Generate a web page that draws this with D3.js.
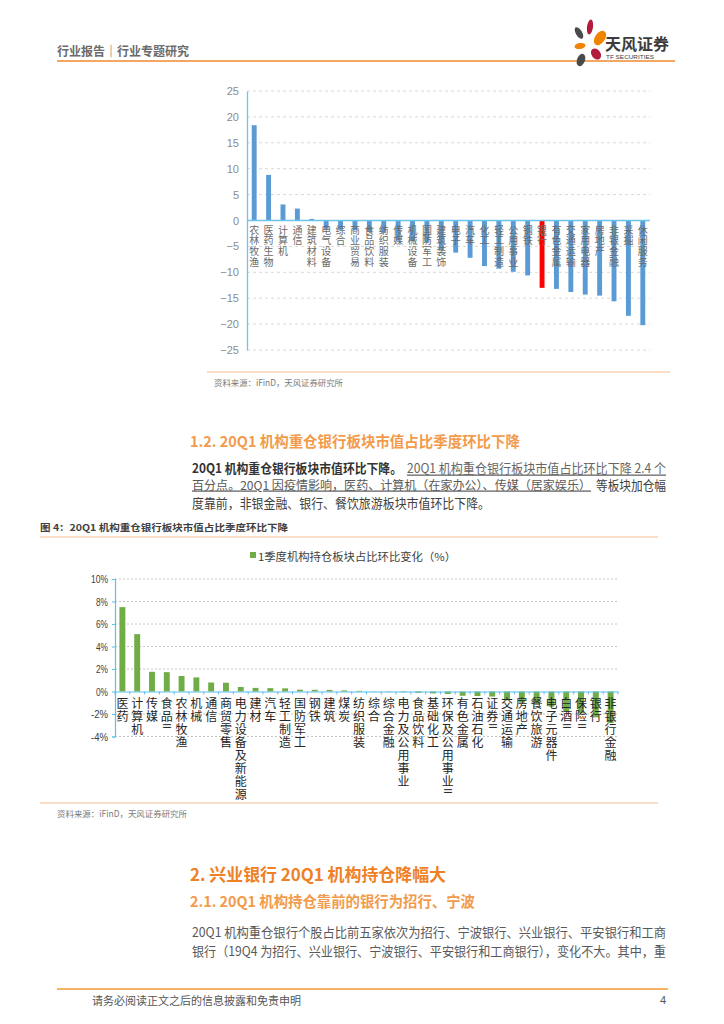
<!DOCTYPE html>
<html><head><meta charset="utf-8">
<script src="https://cdn.jsdelivr.net/npm/d3@7"></script>
<style>
html,body{margin:0;padding:0;background:#fff;}
svg{display:block;font-family:"Noto Sans CJK SC","Noto Sans",sans-serif;}
</style></head>
<body>
<svg id="page" width="724" height="1024"></svg>
<script>
// ---------- data ----------
const cats1 = ["农林牧渔","医药生物","计算机","通信","建筑材料","电气设备","综合","商业贸易","食品饮料","纺织服装","传媒","机械设备","国防军工","建筑装饰","电子","汽车","化工","轻工制造","公用事业","钢铁","银行","有色金属","交通运输","家用电器","房地产","非银金融","采掘","休闲服务"];
const vals1 = [18.4,8.8,3.1,2.3,0.3,-1.6,-1.8,-1.9,-2.1,-2.4,-3.9,-4.0,-4.3,-5.7,-6.2,-7.2,-8.8,-9.3,-9.9,-10.6,-13.0,-13.2,-13.8,-14.3,-14.5,-15.6,-18.4,-20.2];
const highlight1 = "银行";
const ticks1 = [-25,-20,-15,-10,-5,0,5,10,15,20,25];

const cats2 = ["医药","计算机","传媒","食品II","农林牧渔","机械","通信","商贸零售","电力设备及新能源","建材","汽车","轻工制造","国防军工","钢铁","建筑","煤炭","纺织服装","综合","综合金融","电力及公用事业","食品饮料","基础化工","环保及公用事业II","有色金属","石油石化","证券II","交通运输","房地产","餐饮旅游","电子元器件","白酒II","保险II","银行","非银行金融"];
const vals2 = [7.5,5.1,1.75,1.72,1.38,1.25,0.8,0.78,0.4,0.32,0.3,0.28,0.16,0.15,0.14,0.1,0.06,0.02,-0.03,-0.06,-0.12,-0.17,-0.22,-0.38,-0.4,-0.45,-0.8,-1.0,-1.05,-1.35,-1.8,-1.95,-2.3,-2.8];
const ticks2 = [-4,-2,0,2,4,6,8,10];
const legend2 = "1季度机构持仓板块占比环比变化（%）";

const svg = d3.select("#page");

// ---------- header ----------
svg.append("text").attr("x",57).attr("y",50).attr("dominant-baseline","central")
  .attr("font-size",12.5).attr("font-weight","bold").attr("fill","#6b6b6b")
  .attr("textLength",132).attr("lengthAdjust","spacingAndGlyphs").text("行业报告｜行业专题研究");
svg.append("line").attr("x1",57).attr("x2",675).attr("y1",61).attr("y2",61).attr("stroke","#F08A2C").attr("stroke-width",1.6);
const logo = svg.append("g");
[[579,33,3.2,6.5,-30,"#4a4a4a"],[590,27,3,7.5,8,"#b31b3c"],[600,38,5,8,35,"#F08300"],
 [580,46,5.5,3,-10,"#F08300"],[596,54,4.5,6,-35,"#b31b3c"],[581,60,4,6.5,20,"#4a4a4a"]]
 .forEach(p=>logo.append("ellipse").attr("cx",p[0]).attr("cy",p[1]).attr("rx",p[2]).attr("ry",p[3])
   .attr("transform",`rotate(${p[4]},${p[0]},${p[1]})`).attr("fill",p[5]));
svg.append("text").attr("x",605).attr("y",43).attr("dominant-baseline","central").attr("font-size",15.5)
  .attr("font-weight","bold").attr("fill","#3c3c3c").attr("textLength",64).attr("lengthAdjust","spacingAndGlyphs").text("天风证券");
svg.append("text").attr("x",606).attr("y",57).attr("dominant-baseline","central").attr("font-size",5.2)
  .attr("fill","#3c3c3c").attr("font-family","Liberation Sans").attr("textLength",48).attr("lengthAdjust","spacingAndGlyphs").text("TF SECURITIES");

// vertical label helper: upright characters read top-to-bottom; latin runs rotated
function vlabel(g, x, yTop, label, size, step, fill){
  const toks = label.match(/[A-Za-z0-9]+|./g);
  let y = yTop;
  toks.forEach(t=>{
    const latin = /^[A-Za-z0-9]+$/.test(t);
    const h = latin ? step*0.62 : step;
    const cy = y + h/2;
    const el = g.append("text").attr("x",x).attr("y",cy).attr("text-anchor","middle")
      .attr("dominant-baseline","central").attr("font-size",size).attr("fill",fill).text(t);
    if(latin) el.attr("transform",`rotate(90,${x},${cy})`).attr("font-family","Liberation Sans").attr("font-size",size*0.85);
    y += h;
  });
}

// ---------- chart 1 ----------
{
  const g = svg.append("g");
  const x = d3.scaleBand().domain(cats1).range([247,650]).paddingInner(0.66).paddingOuter(0.33);
  const y = d3.scaleLinear().domain([-25,25]).range([350,91]);
  g.selectAll(".grid").data(ticks1.filter(d=>d!==0)).join("line")
    .attr("x1",247).attr("x2",650).attr("y1",d=>y(d)).attr("y2",d=>y(d))
    .attr("stroke","#d9d9d9").attr("stroke-dasharray","3,3").attr("stroke-width",1);
  g.selectAll(".bar").data(cats1).join("rect")
    .attr("x",d=>x(d)).attr("width",x.bandwidth())
    .attr("y",(d,i)=>y(Math.max(0,vals1[i]))).attr("height",(d,i)=>Math.abs(y(vals1[i])-y(0)))
    .attr("fill",d=>d===highlight1?"#FF0000":"#5B9BD5");
  const ax = d3.axisLeft(y).tickValues(ticks1).tickSize(0).tickPadding(8).tickFormat(d3.format("d"));
  const ag = g.append("g").attr("transform","translate(247,0)").call(ax);
  ag.select(".domain").attr("stroke","#6CC4EE").attr("stroke-width",1.3);
  ag.selectAll("text").attr("font-size",11).attr("fill","#8c8c8c").attr("font-family","Liberation Sans");
  g.append("line").attr("x1",247).attr("x2",650).attr("y1",y(0)).attr("y2",y(0)).attr("stroke","#6CC4EE").attr("stroke-width",1.3);
  cats1.forEach(c=>vlabel(g, x(c)+x.bandwidth()/2, 224, c, 10, 10.6, "#6a6a6a"));
  svg.append("line").attr("x1",207).attr("x2",670).attr("y1",372).attr("y2",372).attr("stroke","#F7B98A").attr("stroke-width",1);
  svg.append("text").attr("x",214).attr("y",382).attr("dominant-baseline","central").attr("font-size",8.5)
    .attr("fill","#7a7a7a").attr("textLength",129).attr("lengthAdjust","spacingAndGlyphs").text("资料来源：iFinD，天风证券研究所");
}

// ---------- text section 1 ----------
function line(x,y,size,fill,len,txt,opts){
  const t = svg.append("text").attr("x",x).attr("y",y).attr("dominant-baseline","central").attr("font-size",size)
    .attr("fill",fill).attr("textLength",len).attr("lengthAdjust","spacingAndGlyphs").text(txt);
  if(opts&&opts.bold) t.attr("font-weight","bold");
  if(opts&&opts.ul) t.attr("text-decoration","underline");
  return t;
}
line(190,440,15,"#F29B4C",330,"1.2. 20Q1 机构重仓银行板块市值占比季度环比下降",{bold:true});
line(192,467,13,"#333",210,"20Q1 机构重仓银行板块市值环比下降。",{bold:true});
line(407,467,13,"#666",259,"20Q1 机构重仓银行板块市值占比环比下降 2.4 个",{ul:true});
line(192,484,12,"#595959",399,"百分点。20Q1 因疫情影响，医药、计算机（在家办公）、传媒（居家娱乐）",{ul:true});
line(596,484,13,"#404040",70,"等板块加仓幅");
line(192,502,13,"#404040",298,"度靠前，非银金融、银行、餐饮旅游板块市值环比下降。");
line(40,527,9.5,"#404040",248,"图 4：20Q1 机构重仓银行板块市值占比季度环比下降",{bold:true});
svg.append("line").attr("x1",40).attr("x2",658).attr("y1",537).attr("y2",537).attr("stroke","#F7B98A").attr("stroke-width",1.2);

// ---------- chart 2 ----------
{
  const g = svg.append("g");
  const x = d3.scaleBand().domain(cats2).range([115,618]).paddingInner(0.6).paddingOuter(0.3);
  const y = d3.scaleLinear().domain([-4,10]).range([736.5,579]);
  g.selectAll(".grid").data(ticks2.filter(d=>d!==0)).join("line")
    .attr("x1",115).attr("x2",618).attr("y1",d=>y(d)).attr("y2",d=>y(d))
    .attr("stroke","#b5b5b5").attr("stroke-dasharray","2,2").attr("stroke-width",0.8);
  g.selectAll(".bar").data(cats2).join("rect")
    .attr("x",d=>x(d)).attr("width",x.bandwidth())
    .attr("y",(d,i)=>y(Math.max(0,vals2[i]))).attr("height",(d,i)=>Math.abs(y(vals2[i])-y(0)))
    .attr("fill","#70AD47");
  const ax = d3.axisLeft(y).tickValues(ticks2).tickSize(3).tickPadding(4).tickFormat(d=>d+"%");
  const ag = g.append("g").attr("transform","translate(115,0)").call(ax);
  ag.select(".domain").attr("stroke","#5BC0EB").attr("stroke-width",1.2);
  ag.selectAll(".tick line").attr("stroke","#5BC0EB");
  ag.selectAll("text").attr("font-size",11).attr("fill","#404040").attr("font-family","Liberation Sans")
    .attr("textLength",d=>d>=10?17:(d<0?17:12)).attr("lengthAdjust","spacingAndGlyphs");
  const xa = d3.axisBottom(x).tickSize(0).tickFormat("");
  const xg = g.append("g").attr("transform",`translate(0,${y(0)})`).call(xa);
  xg.select(".domain").attr("stroke","#5BC0EB").attr("stroke-width",1.2);
  g.selectAll(".xt").data(d3.range(cats2.length+1)).join("line")
    .attr("x1",i=>115+i*x.step()).attr("x2",i=>115+i*x.step())
    .attr("y1",y(0)).attr("y2",y(0)+3).attr("stroke","#5BC0EB");
  cats2.forEach(c=>vlabel(g, x(c)+x.bandwidth()/2, 696, c, 12, 13, "#262626"));
  g.append("rect").attr("x",250).attr("y",552).attr("width",6).attr("height",6).attr("fill","#70AD47");
  g.append("text").attr("x",258).attr("y",555.5).attr("dominant-baseline","central").attr("font-size",11)
    .attr("fill","#404040").attr("textLength",198).attr("lengthAdjust","spacingAndGlyphs").text(legend2);
  svg.append("line").attr("x1",40).attr("x2",658).attr("y1",803).attr("y2",803).attr("stroke","#F7B98A").attr("stroke-width",1.2);
  svg.append("text").attr("x",57).attr("y",813).attr("dominant-baseline","central").attr("font-size",8.5)
    .attr("fill","#7a7a7a").attr("textLength",130).attr("lengthAdjust","spacingAndGlyphs").text("资料来源：iFinD，天风证券研究所");
}

// ---------- text section 2 ----------
line(190,873,17,"#EE8125",256,"2. 兴业银行 20Q1 机构持仓降幅大",{bold:true});
line(190,900,15,"#F29B4C",285,"2.1. 20Q1 机构持仓靠前的银行为招行、宁波",{bold:true});
line(192,931,13,"#595959",474,"20Q1  机构重仓银行个股占比前五家依次为招行、宁波银行、兴业银行、平安银行和工商");
line(192,950,13,"#595959",474,"银行（19Q4 为招行、兴业银行、宁波银行、平安银行和工商银行），变化不大。其中，重");

// ---------- footer ----------
svg.append("line").attr("x1",57).attr("x2",668).attr("y1",989).attr("y2",989).attr("stroke","#F39A2E").attr("stroke-width",1.5);
line(92,1000,11,"#555",209,"请务必阅读正文之后的信息披露和免责申明");
svg.append("text").attr("x",666).attr("y",1000).attr("dominant-baseline","central").attr("text-anchor","end").attr("font-size",11)
  .attr("fill","#555").attr("font-family","Liberation Sans").text("4");
</script>
</body></html>
